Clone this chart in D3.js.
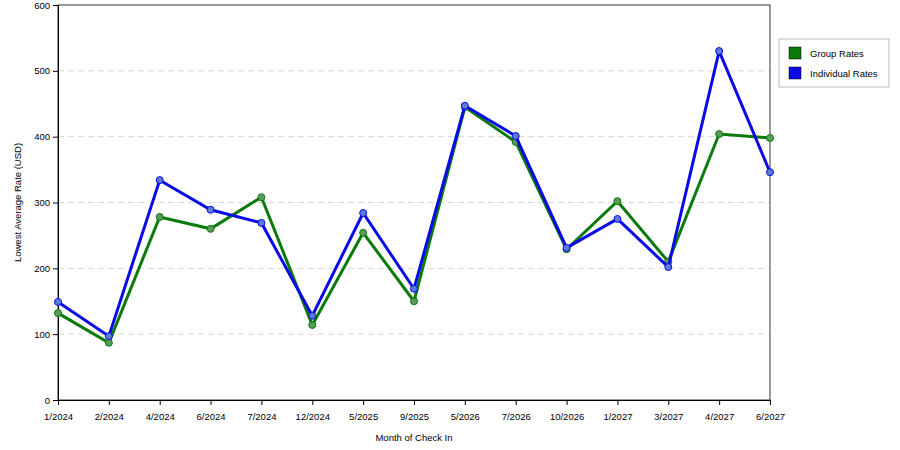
<!DOCTYPE html>
<html><head><meta charset="utf-8">
<script src="https://cdn.jsdelivr.net/npm/d3@7"></script>
<style>body{margin:0;background:#fff}text{font-family:"Liberation Sans",Arial,sans-serif}</style>
</head><body><svg id="c" width="900" height="450"></svg>
<script>
const categories=["1/2024","2/2024","4/2024","6/2024","7/2024","12/2024","5/2025","9/2025","5/2026","7/2026","10/2026","1/2027","3/2027","4/2027","6/2027"];
const groupRates=[132,87,278,260,308,114,254,150,445,392,229,302,210,404,398];
const individualRates=[149,97,334,289,269,128,284,169,447,401,231,275,202,530,346];
const yTicks=[0,100,200,300,400,500,600];
const svg=d3.select("#c");
const L=58,R=770,T=5,B=400;
const x=d3.scalePoint().domain(categories).range([L,R]);
const y=d3.scaleLinear().domain([0,600]).range([B,T]);
svg.append("g").selectAll("line").data(yTicks.filter(d=>d>0&&d<600)).join("line")
 .attr("x1",L).attr("x2",R).attr("y1",d=>y(d)).attr("y2",d=>y(d))
 .attr("stroke","#d8d8d8").attr("stroke-dasharray","6,4");
svg.append("rect").attr("x",L).attr("y",T).attr("width",R-L).attr("height",B-T).attr("fill","none").attr("stroke","#000").attr("stroke-width",0.8);
const ya=svg.append("g").attr("transform",`translate(${L},0)`).call(d3.axisLeft(y).tickValues(yTicks).tickSize(5));
const xa=svg.append("g").attr("transform",`translate(0,${B})`).call(d3.axisBottom(x).tickSize(5));
[ya,xa].forEach(a=>{a.selectAll("text").attr("font-size",9.5).attr("fill","#000");a.select(".domain").attr("stroke","#000")});
xa.selectAll("text").attr("dy","1.3em");
svg.append("text").attr("x",(L+R)/2).attr("y",441).attr("text-anchor","middle").attr("font-size",9.5).text("Month of Check In");
svg.append("text").attr("transform",`translate(21,${(T+B)/2}) rotate(-90)`).attr("text-anchor","middle").attr("font-size",9.5).text("Lowest Average Rate (USD)");
const series=[{name:"Group Rates",vals:groupRates,c:"#0a7a0a",p:"#5a9a5a"},{name:"Individual Rates",vals:individualRates,c:"#0a0ae6",p:"#5a7ad8"}];
const line=d3.line().x((d,i)=>x(categories[i])).y(d=>y(d));
series.forEach(s=>{
 svg.append("path").datum(s.vals).attr("d",line).attr("fill","none").attr("stroke",s.c).attr("stroke-width",3);
 svg.append("g").selectAll("circle").data(s.vals).join("circle").attr("cx",(d,i)=>x(categories[i])).attr("cy",d=>y(d)).attr("r",3.5).attr("fill",s.p).attr("stroke",s.c).attr("stroke-width",1);
});
const lg=svg.append("g");
lg.append("rect").attr("x",779).attr("y",39).attr("width",110).attr("height",48).attr("fill","#fff").attr("stroke","#bbb");
series.forEach((s,i)=>{
 lg.append("rect").attr("x",789).attr("y",47+i*20).attr("width",12).attr("height",12).attr("fill",s.c).attr("stroke","#000").attr("stroke-width",0.5);
 lg.append("text").attr("x",810).attr("y",57+i*20).attr("font-size",9.5).text(s.name);
});
</script></body></html>
